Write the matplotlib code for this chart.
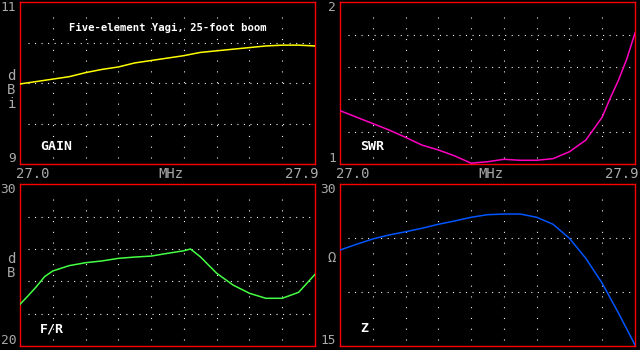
import matplotlib
matplotlib.use("Agg")
import matplotlib.pyplot as plt

plt.rcParams['lines.scale_dashes'] = False

# ---- data ----
freq_gain = [27.00, 27.05, 27.10, 27.15, 27.20, 27.25, 27.30, 27.35, 27.40, 27.45,
             27.50, 27.55, 27.60, 27.65, 27.70, 27.75, 27.80, 27.85, 27.90]
gain = [9.99, 10.02, 10.05, 10.08, 10.13, 10.17, 10.20, 10.25, 10.28, 10.31,
        10.34, 10.38, 10.40, 10.42, 10.44, 10.46, 10.47, 10.47, 10.46]

freq_swr = [27.00, 27.05, 27.10, 27.15, 27.20, 27.25, 27.30, 27.35, 27.40, 27.45,
            27.50, 27.55, 27.60, 27.65, 27.70, 27.75, 27.80, 27.825, 27.85, 27.875, 27.90]
swr = [1.33, 1.29, 1.25, 1.21, 1.165, 1.117, 1.087, 1.05, 1.005, 1.014,
       1.029, 1.023, 1.023, 1.033, 1.076, 1.148, 1.29, 1.41, 1.52, 1.65, 1.81]

freq_fr = [27.00, 27.025, 27.05, 27.075, 27.10, 27.15, 27.20, 27.25, 27.30, 27.35,
           27.40, 27.45, 27.50, 27.52, 27.55, 27.60, 27.65, 27.70, 27.75, 27.80,
           27.85, 27.90]
fr = [22.58, 23.11, 23.67, 24.29, 24.64, 24.97, 25.15, 25.26, 25.42, 25.50,
      25.56, 25.73, 25.89, 26.00, 25.52, 24.50, 23.77, 23.26, 22.95, 22.95,
      23.32, 24.43]

freq_z = [27.00, 27.05, 27.10, 27.15, 27.20, 27.25, 27.30, 27.35, 27.40, 27.45,
          27.50, 27.55, 27.60, 27.65, 27.70, 27.75, 27.80, 27.85, 27.90]
z = [23.9, 24.43, 24.93, 25.3, 25.6, 25.92, 26.29, 26.6, 26.94, 27.18,
     27.24, 27.24, 26.94, 26.29, 24.99, 23.13, 20.82, 18.03, 15.1]

x_min, x_max = 27.0, 27.9
x_grid = [27.1, 27.2, 27.3, 27.4, 27.5, 27.6, 27.7, 27.8]
x_labels = ["27.0", "MHz", "27.9"]

panels = [
    # (freq, values, color, ymin, ymax, ygrid, top label, bottom label, unit, name)
    (freq_gain, gain, "#ffff00", 9, 11, [9.5, 10, 10.5], "11", "9", "dBi", "GAIN"),
    (freq_swr, swr, "#ff00c0", 1, 2, [1.2, 1.4, 1.6, 1.8], "2", "1", "", "SWR"),
    (freq_fr, fr, "#44ff44", 20, 30, [22, 24, 26, 28], "30", "20", "dB", "F/R"),
    (freq_z, z, "#0055ff", 15, 30, [20, 25], "30", "15", "Ω", "Z"),
]
title = "Five-element Yagi, 25-foot boom"

W, H = 640, 350
fig = plt.figure(figsize=(W / 100, H / 100), dpi=100, facecolor="black")

rects = [(20, 2.3, 315, 164), (340, 2.3, 635, 164),
         (20, 184.3, 315, 346), (340, 184.3, 635, 346)]
unit_first_y = [76, 0, 259, 258]

gray = "#aaaaaa"
mono = "DejaVu Sans Mono"

def fx(x):
    return x / W

def fy(y):
    return 1 - y / H

for i, ((l, t, r, b), p) in enumerate(zip(rects, panels)):
    freqs, vals, col, ymin, ymax, ygrid, ltop, lbot, unit, name = p
    ax = fig.add_axes([fx(l), fy(b), (r - l) / W, (b - t) / H])
    ax.set_facecolor("black")
    ax.set_xlim(x_min, x_max)
    ax.set_ylim(ymin, ymax)
    ax.set_xticks([])
    ax.set_yticks([])
    for s in ax.spines.values():
        s.set_color("#ff0000")
        s.set_linewidth(1.0)
    # dotted grid
    for yv in ygrid:
        ax.axhline(yv, xmin=0.027, xmax=0.985, color="white", lw=0.8,
                   dashes=(0.75, 3.95), zorder=1)
    for xv in x_grid:
        ax.axvline(xv, ymin=0.04, ymax=0.95, color="white", lw=0.8,
                   dashes=(0.75, 7.0), zorder=1)
    ax.plot(freqs, vals, color=col, lw=1.1, zorder=3)
    # name label
    ax.text(20 / (r - l), 17.5 / (b - t), name, transform=ax.transAxes,
            color="white", fontsize=9.5, family=mono, fontweight="bold",
            ha="left", va="center")
    # y range labels
    fig.text(fx(l - 4), fy(t - 1.5), ltop, color=gray, fontsize=9.3, family=mono,
             ha="right", va="top")
    fig.text(fx(l - 4), fy(b + 1), lbot, color=gray, fontsize=9.3, family=mono,
             ha="right", va="bottom")
    # unit letters stacked
    for k, ch in enumerate(unit):
        yy = unit_first_y[i] + k * 14
        fig.text(fx(l - 8.5), fy(yy), ch, color=gray, fontsize=10, family=mono,
                 ha="center", va="center")
    # x labels between rows for the top panels
    if i < 2:
        fig.text(fx(l - 4), fy(174), x_labels[0], color=gray, fontsize=10,
                 family=mono, ha="left", va="center")
        fig.text(fx((l + r) / 2 + 3.5), fy(174), x_labels[1], color=gray,
                 fontsize=10, family=mono, ha="center", va="center")
        fig.text(fx(r + 4), fy(174), x_labels[2], color=gray, fontsize=10,
                 family=mono, ha="right", va="center")
    if i == 0:
        ax.text((168 - l) / (r - l), (b - 28) / (b - t), title,
                transform=ax.transAxes, color="white", fontsize=7.6,
                family=mono, fontweight="bold", ha="center", va="center")

fig.savefig("out.png", dpi=100, facecolor="black")
